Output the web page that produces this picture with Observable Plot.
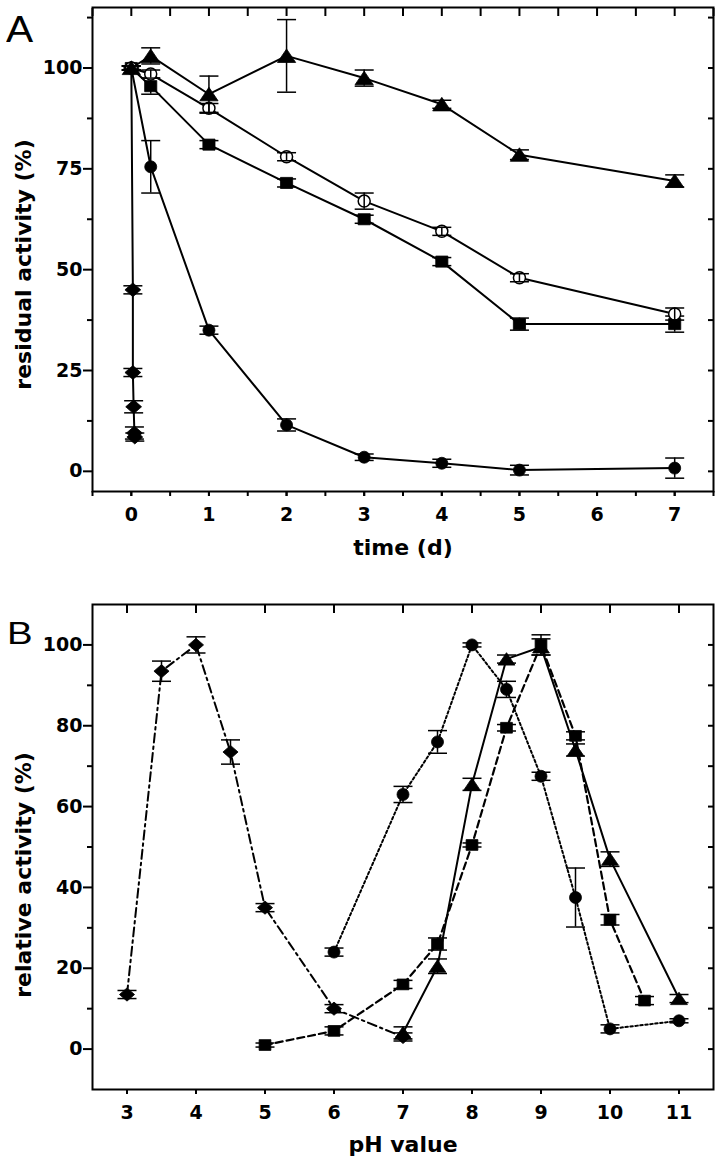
<!DOCTYPE html>
<html>
<head>
<meta charset="utf-8">
<script src="https://cdn.jsdelivr.net/npm/d3@7"></script>
<script src="https://cdn.jsdelivr.net/npm/@observablehq/plot@0.6"></script>
<style>
  html, body { margin: 0; padding: 0; background: white; }
  #wrap { position: relative; width: 720px; height: 1164px; overflow: hidden; }
  .panel { position: absolute; left: 0; }
  .letter { position: absolute; font-family: "Liberation Sans", Arial, sans-serif; color: black; line-height: 1; transform-origin: left top; }
</style>
</head>
<body>
<div id="wrap">
  <div id="pa" class="panel" style="top:0px"></div>
  <div id="pb" class="panel" style="top:580px"></div>
  <div class="letter" style="left:6px; top:11px; font-size:37px; transform:scaleX(1.1)">A</div>
  <div class="letter" style="left:7px; top:617px; font-size:32px; transform:scaleX(1.2)">B</div>
</div>
<script>
// ---------- Panel A data: residual activity (%) vs time (d) ----------
const timeA = [0, 0.25, 1, 2, 3, 4, 5, 7];
const squareA = [100, 95.5, 81, 71.5, 62.5, 52, 36.5, 36.5];
const squareAErr = [0.5, 2, 1, 1, 1, 1, 1.5, 2];
const openCircleA = [100, 98.5, 90, 78, 67, 59.5, 48, 39];
const openCircleAErr = [0.5, 1, 1.2, 1, 2, 1, 1, 1.5];
const triangleA = [100, 103, 93.5, 103, 97.5, 91, 78.5, 72];
const triangleAErr = [0.5, 2, 4.5, 9, 2, 1, 1.2, 1.5];
const circleA = [100, 75.5, 35, 11.5, 3.5, 2, 0.3, 0.8];
const circleAErr = [0.5, 6.5, 1, 1.5, 0.8, 1, 1.2, 2.5];
const diamondTimeA = [0, 0.02, 0.02, 0.03, 0.04, 0.045];
const diamondA = [100, 45, 24.5, 16, 9.5, 8.5];
const diamondAErr = [0.5, 1, 1, 1.5, 1.5, 1];
const xTicksA = [0, 1, 2, 3, 4, 5, 6, 7];
const yTicksA = [0, 25, 50, 75, 100];

// ---------- Panel B data: relative activity (%) vs pH ----------
const pHDiamond = [3, 3.5, 4, 4.5, 5, 6, 7];
const diamondB = [13.5, 93.5, 100, 73.5, 35, 10, 3];
const diamondBErr = [1, 2.5, 2, 3, 1, 1, 1];
const pHCircle = [6, 7, 7.5, 8, 8.5, 9, 9.5, 10, 11];
const circleB = [24, 63, 76, 100, 89, 67.5, 37.5, 5, 7];
const circleBErr = [1, 2, 2.8, 0.5, 2, 1, 7.3, 1, 0.5];
const pHSquare = [5, 6, 7, 7.5, 8, 8.5, 9, 9.5, 10, 10.5];
const squareB = [1, 4.5, 16, 26, 50.5, 79.5, 100, 77.5, 32, 12];
const squareBErr = [0.5, 1, 1, 1.5, 0.5, 0.8, 2.5, 1, 1.3, 1];
const pHTriangle = [7, 7.5, 8, 8.5, 9, 9.5, 10, 11];
const triangleB = [4, 20.5, 65.5, 96.5, 99.5, 74, 47, 12.5];
const triangleBErr = [1.5, 1.8, 1.5, 1, 2, 1.5, 1.8, 1];
const xTicksB = [3, 4, 5, 6, 7, 8, 9, 10, 11];
const yTicksB = [0, 20, 40, 60, 80, 100];

// ---------- helpers ----------
const rows = (xs, ys, es) => xs.map((x, i) => ({x, y: ys[i], e: es[i]}));
const rad = (size) => Math.sqrt(size / Math.PI);
const triSym = {draw(c, s) { const r = rad(s), w = r * 1.45, h = r * 1.1; c.moveTo(0, -h); c.lineTo(w, h * 0.95); c.lineTo(-w, h * 0.95); c.closePath(); }};
const diaSym = {draw(c, s) { const r = rad(s), w = r * 1.2, h = r * 1.05; c.moveTo(0, -h); c.lineTo(w, 0); c.lineTo(0, h); c.lineTo(-w, 0); c.closePath(); }};
const sqSym = {draw(c, s) { const r = rad(s), w = r * 0.92, h = r * 0.84; c.rect(-w, -h, 2 * w, 2 * h); }};
const capSym = {draw(c, s) { const w = rad(s); c.moveTo(-w, 0); c.lineTo(w, 0); }};

function series(data, symbol, r, opts = {}) {
  const {open = false, dash = null, lineWidth = 2} = opts;
  return [
    Plot.line(data, {x: "x", y: "y", stroke: "black", strokeWidth: lineWidth, strokeDasharray: dash}),
    Plot.dot(data, {x: "x", y: "y", symbol, r, fill: open ? "white" : "black", stroke: "black", strokeWidth: open ? 1.5 : 0.8}),
    Plot.ruleX(data, {x: "x", y1: d => d.y - d.e, y2: d => d.y + d.e, stroke: "black", strokeWidth: 1.5}),
    Plot.dot(data, {x: "x", y: d => d.y - d.e, symbol: capSym, r: 9.5, fill: "none", stroke: "black", strokeWidth: 1.5}),
    Plot.dot(data, {x: "x", y: d => d.y + d.e, symbol: capSym, r: 9.5, fill: "none", stroke: "black", strokeWidth: 1.5})
  ];
}

const range = (a, b, step) => d3.range(a, b + step / 2, step);
const fam = "'DejaVu Sans', sans-serif";
const labelOpts = {fontSize: 22, fontWeight: "bold", fill: "black", textAnchor: "middle", lineAnchor: "middle"};

// ---------- Panel A ----------
const plotA = Plot.plot({
  width: 720, height: 580,
  marginLeft: 92, marginRight: 7, marginTop: 7, marginBottom: 89,
  x: {domain: [-0.5, 7.5]},
  y: {domain: [-5, 115]},
  style: {background: "white", color: "black", fontFamily: fam, fontWeight: "bold", fontSize: "19px"},
  marks: [
    series(rows(diamondTimeA, diamondA, diamondAErr), diaSym, 6.6),
    series(rows(timeA, circleA, circleAErr), "circle", 6.0),
    series(rows(timeA, squareA, squareAErr), sqSym, 6.6),
    series(rows(timeA, openCircleA, openCircleAErr), "circle", 6.0, {open: true}),
    series(rows(timeA, triangleA, triangleAErr), triSym, 6.3),
    Plot.frame({stroke: "black", strokeWidth: 2}),
    Plot.axisY({ticks: yTicksA, tickSize: 9, tickPadding: 1, strokeWidth: 2, label: null, fontSize: 19, fontWeight: "bold"}),
    Plot.axisY({ticks: range(12.5, 112.5, 25), tickSize: 5, strokeWidth: 2, fill: "none", label: null}),
    Plot.axisY({anchor: "right", ticks: range(0, 112.5, 12.5), tickSize: -6, strokeWidth: 2, fill: "none", label: null}),
    Plot.axisX({ticks: xTicksA, tickSize: 5, tickPadding: 11, strokeWidth: 2, label: null, fontSize: 19, fontWeight: "bold"}),
    Plot.axisX({ticks: range(-0.5, 7.5, 0.5), tickSize: 5, strokeWidth: 2, fill: "none", label: null}),
    Plot.axisX({anchor: "top", ticks: range(-0.5, 7.5, 0.5), tickSize: -8, strokeWidth: 2, fill: "none", label: null}),
    Plot.text(["time (d)"], {frameAnchor: "bottom", dy: 56, ...labelOpts}),
    Plot.text(["residual activity (%)"], {frameAnchor: "left", rotate: -90, dx: -69, dy: 15, ...labelOpts})
  ]
});
document.getElementById("pa").appendChild(plotA);

// ---------- Panel B ----------
const plotB = Plot.plot({
  width: 720, height: 584,
  marginLeft: 92, marginRight: 7, marginTop: 24, marginBottom: 75,
  x: {domain: [2.5, 11.5]},
  y: {domain: [-10, 110]},
  style: {background: "white", color: "black", fontFamily: fam, fontWeight: "bold", fontSize: "19px"},
  marks: [
    series(rows(pHDiamond, diamondB, diamondBErr), diaSym, 6.3, {dash: "9,4,2.5,4"}),
    series(rows(pHCircle, circleB, circleBErr), "circle", 6.0, {dash: "2.5,2.5"}),
    series(rows(pHSquare, squareB, squareBErr), sqSym, 6.4, {dash: "7,4", lineWidth: 2.2}),
    series(rows(pHTriangle, triangleB, triangleBErr), triSym, 5.8, {lineWidth: 2}),
    Plot.frame({stroke: "black", strokeWidth: 2}),
    Plot.axisY({ticks: yTicksB, tickSize: 9, tickPadding: 1, strokeWidth: 2, label: null, fontSize: 19, fontWeight: "bold"}),
    Plot.axisY({ticks: range(10, 90, 20), tickSize: 5, strokeWidth: 2, fill: "none", label: null}),
    Plot.axisY({anchor: "right", ticks: range(0, 100, 10), tickSize: -6, strokeWidth: 2, fill: "none", label: null}),
    Plot.axisX({ticks: xTicksB, tickSize: 5, tickPadding: 11, strokeWidth: 2, label: null, fontSize: 19, fontWeight: "bold"}),
    Plot.axisX({anchor: "top", ticks: xTicksB, tickSize: -8, strokeWidth: 2, fill: "none", label: null}),
    Plot.text(["pH value"], {frameAnchor: "bottom", dy: 55, ...labelOpts}),
    Plot.text(["relative activity (%)"], {frameAnchor: "left", rotate: -90, dx: -69, dy: 28, ...labelOpts})
  ]
});
document.getElementById("pb").appendChild(plotB);
</script>
</body>
</html>
